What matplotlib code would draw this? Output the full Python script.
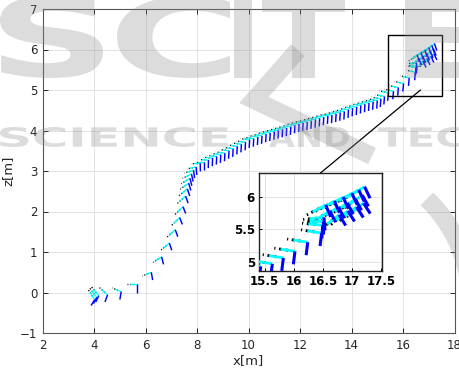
import numpy as np
import matplotlib
matplotlib.use('Agg')
import matplotlib.pyplot as plt
from matplotlib.collections import LineCollection
from matplotlib.patches import Rectangle, PathPatch, ConnectionPatch, Arc
from matplotlib.lines import Line2D
from matplotlib.textpath import TextPath
from matplotlib.font_manager import FontProperties
from matplotlib.transforms import Affine2D

# ---------------- data (camera poses) ----------------
# lower curved part
low_x = [4.02, 4.10, 4.18, 4.52, 5.05, 5.65, 6.22, 6.62, 6.92, 7.15, 7.32, 7.45,
         7.55, 7.62, 7.67, 7.72, 7.78, 7.86, 7.96]
low_z = [-0.18, -0.12, -0.08, -0.06, 0.02, 0.20, 0.50, 0.88, 1.22, 1.55, 1.85, 2.12,
         2.38, 2.56, 2.70, 2.82, 2.93, 3.02, 3.10]
low_phi = [-45, -40, -38, -30, -15, 0, 15, 22, 28, 30, 32, 32,
           30, 28, 25, 22, 18, 12, 8]

# long slope
mid_x = [8.12, 8.28, 8.44, 8.60, 8.76, 8.92, 9.08, 9.24, 9.40, 9.56, 9.72, 9.88,
         10.04, 10.20, 10.36, 10.52, 10.68, 10.84, 11.00, 11.16, 11.32, 11.48, 11.64,
         11.80, 11.96, 12.12, 12.28, 12.44, 12.60, 12.76, 12.92, 13.08, 13.24, 13.40,
         13.56, 13.72, 13.88, 14.04, 14.20, 14.36, 14.52, 14.68, 14.84, 15.00, 15.14,
         15.28]
mid_z = [3.19, 3.23, 3.27, 3.32, 3.36, 3.40, 3.44, 3.50, 3.55, 3.61, 3.66, 3.71,
         3.77, 3.80, 3.84, 3.87, 3.91, 3.94, 3.97, 4.00, 4.03, 4.06, 4.09,
         4.13, 4.16, 4.19, 4.21, 4.24, 4.27, 4.30, 4.33, 4.36, 4.38, 4.41,
         4.44, 4.47, 4.51, 4.55, 4.58, 4.62, 4.65, 4.68, 4.71, 4.74, 4.78,
         4.84]
mid_phi = [2, 0, -2, -3, -4, -5, -5, -5, -5, -5, -5, -5,
           -5, -5, -5, -5, -5, -5, -5, -5, -5, -5, -5,
           -5, -5, -5, -5, -5, -5, -5, -5, -5, -5, -5,
           -5, -5, -5, -5, -5, -5, -5, -6, -6, -6, -7,
           -7]

# end of trajectory (zoomed area)
end_x = [15.43, 15.63, 15.82, 16.02, 16.24, 16.48, 16.50, 16.51, 16.52,
         16.55, 16.70, 16.85, 17.00, 17.12, 17.22,
         16.62, 16.77, 16.92, 17.06, 17.18,
         16.78, 16.93, 17.08, 17.20]
end_z = [4.93, 4.97, 5.06, 5.16, 5.30, 5.44, 5.56, 5.62, 5.68,
         5.87, 5.93, 5.99, 6.05, 6.10, 6.15,
         5.78, 5.84, 5.90, 5.96, 6.02,
         5.72, 5.78, 5.84, 5.90]
end_phi = [-8, -8, -8, -8, -8, -8, -5, 0, 5,
           25, 26, 27, 28, 28, 28,
           30, 30, 32, 32, 32,
           35, 36, 36, 36]

x_ticks = [2, 4, 6, 8, 10, 12, 14, 16, 18]
z_ticks = [-1, 0, 1, 2, 3, 4, 5, 6, 7]
inset_xticks = [15.5, 16, 16.5, 17, 17.5]
inset_xticklabels = ['15.5', '16', '16.5', '17', '17.5']
inset_zticks = [5, 5.5, 6]
inset_zticklabels = ['5', '5.5', '6']
zoom_xlim = (15.4, 17.52)
zoom_zlim = (4.86, 6.36)
x_label = 'x[m]'
z_label = 'z[m]'

# frame axis lengths (metres)
L_CYAN = 0.25
L_BLACK = 0.36
L_BLUE = 0.20

pose_x = np.array(low_x + mid_x + end_x)
pose_z = np.array(low_z + mid_z + end_z)
pose_phi = np.deg2rad(np.array(low_phi + mid_phi + end_phi))


def frame_segments():
    ux, uz = -np.cos(pose_phi), -np.sin(pose_phi)
    vx, vz = np.sin(pose_phi), -np.cos(pose_phi)
    blk = [[(x + 0.12 * a, z + 0.12 * b), (x + L_BLACK * a, z + L_BLACK * b)]
           for x, z, a, b in zip(pose_x, pose_z, ux, uz)]
    cya = [[(x, z), (x + L_CYAN * a, z + L_CYAN * b)]
           for x, z, a, b in zip(pose_x, pose_z, ux, uz)]
    blu = [[(x, z), (x + L_BLUE * a, z + L_BLUE * b)]
           for x, z, a, b in zip(pose_x, pose_z, vx, vz)]
    return blk, cya, blu


def draw_frames(ax, lw):
    blk, cya, blu = frame_segments()
    ax.add_collection(LineCollection(blk, colors='black', linewidths=lw,
                                     linestyles=(0, (1.0, 1.3)), zorder=3))
    ax.add_collection(LineCollection(cya, colors='#00ffff', linewidths=lw, zorder=4))
    ax.add_collection(LineCollection(blu, colors='#0000ff', linewidths=lw * 1.1, zorder=5))


W, H = 459, 374
fig = plt.figure(figsize=(W / 100, H / 100), dpi=100)

ax = fig.add_axes([42.7 / W, (H - 333) / H, (454.5 - 42.7) / W, (333 - 9) / H])
draw_frames(ax, 0.95)
ax.set_xlim(2, 18)
ax.set_ylim(-1, 7)
ax.set_xticks(x_ticks)
ax.set_yticks(z_ticks)
ax.grid(True, color='#e3e3e3', linewidth=0.7)
ax.set_axisbelow(True)
ax.tick_params(direction='in', top=True, right=True, length=3.5, width=0.7,
               colors='#262626', labelsize=8.5, pad=4)
for s in ax.spines.values():
    s.set_color('#555555')
    s.set_linewidth(0.8)
ax.set_xlabel(x_label, fontsize=9.5, color='#262626', labelpad=2)
ax.set_ylabel(z_label, fontsize=9.5, color='#262626')
ax.yaxis.set_label_coords(-0.068, 0.5)

ax.add_patch(Rectangle((zoom_xlim[0], zoom_zlim[0]), zoom_xlim[1] - zoom_xlim[0],
                       zoom_zlim[1] - zoom_zlim[0], fill=False, ec='black',
                       lw=1.0, zorder=6))

# inset
axin = fig.add_axes([259 / W, (H - 271) / H, 123 / W, 98 / H])
draw_frames(axin, 2.0)
axin.set_xlim(*zoom_xlim)
axin.set_ylim(*zoom_zlim)
axin.set_xticks(inset_xticks)
axin.set_xticklabels(inset_xticklabels)
axin.set_yticks(inset_zticks)
axin.set_yticklabels(inset_zticklabels)
axin.grid(True, color='#e3e3e3', linewidth=0.7)
axin.set_axisbelow(True)
axin.tick_params(direction='in', length=2.5, width=0.7, labelsize=8.5, pad=3)
for lab in axin.get_xticklabels() + axin.get_yticklabels():
    lab.set_fontweight('bold')
for s in axin.spines.values():
    s.set_color('#222222')
    s.set_linewidth(1.0)

con = ConnectionPatch(xyA=(16.68, 5.0), coordsA=ax.transData,
                      xyB=(0.5, 1.0), coordsB=axin.transAxes,
                      color='black', lw=0.9, zorder=7)
fig.add_artist(con)

# ---------------- publisher watermark ----------------
wm_prop = FontProperties(family='DejaVu Sans', weight='bold')
WM_COLOR = '#8c8c8c'
WM_ALPHA = 0.30


def watermark(text, x0, ytop, x1, ybot):
    tp = TextPath((0, 0), text, size=100, prop=wm_prop)
    e = tp.get_extents()
    tr = (Affine2D().translate(-e.x0, -e.y0)
          .scale((x1 - x0) / e.width / W, (ybot - ytop) / e.height / H)
          .translate(x0 / W, (H - ybot) / H))
    p = PathPatch(tr.transform_path(tp), transform=fig.transFigure,
                  facecolor=WM_COLOR, edgecolor='none', alpha=WM_ALPHA, zorder=20)
    fig.add_artist(p)


def wm_band(pts, width_px):
    xs = [p[0] / W for p in pts]
    ys = [(H - p[1]) / H for p in pts]
    fig.add_artist(Line2D(xs, ys, transform=fig.transFigure, color=WM_COLOR,
                          alpha=WM_ALPHA, lw=width_px * 0.72,
                          solid_capstyle='butt', solid_joinstyle='miter', zorder=20))


watermark('S', 0, -4, 103, 78)
watermark('C', 117, -4, 230, 78)
watermark('I', 234, -4, 252, 78)
watermark('T', 262, -4, 345, 78)
watermark('E', 405, -4, 480, 78)
watermark('SCIENCE', 0, 127, 228, 147)
watermark('AND', 269, 127, 349, 147)
watermark('TECHNOLOGY', 378, 127, 698, 147)

# logo shapes
wm_band([(298, 50), (254, 100), (372, 156)], 18)
fig.add_artist(Arc((330 / W, (H - 300) / H), 280 / W, 280 / H, theta1=5, theta2=52,
                   transform=fig.transFigure, color=WM_COLOR, alpha=WM_ALPHA,
                   lw=18 * 0.72, zorder=20))

fig.savefig('out.png', dpi=100)
